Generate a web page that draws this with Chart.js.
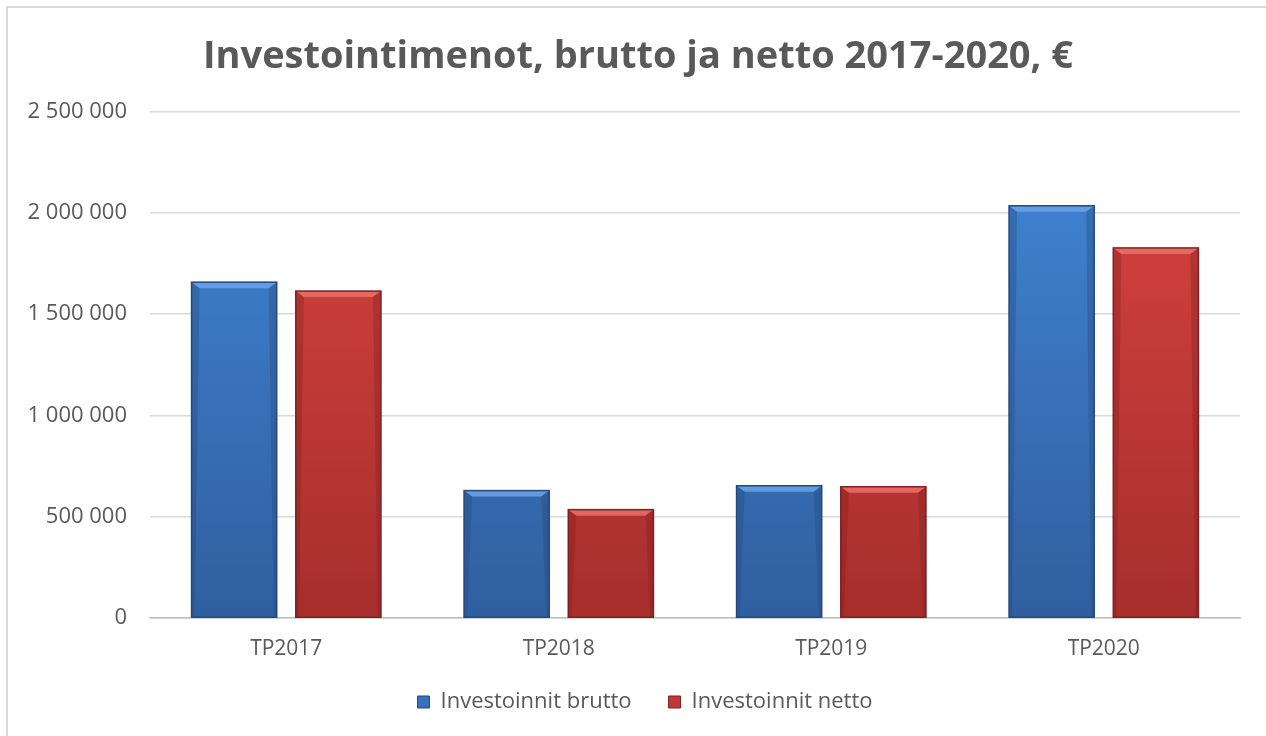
<!DOCTYPE html>
<html>
<head>
<meta charset="utf-8">
<script src="https://cdn.jsdelivr.net/npm/chart.js@4.4.1/dist/chart.umd.min.js"></script>
<style>
  html, body { margin: 0; padding: 0; background: #fff; }
  #wrap { position: relative; width: 1266px; height: 736px; overflow: hidden; }
  #frame { position: absolute; left: 6px; top: 6px; width: 1300px; height: 800px;
           border-top: 2px solid #d9d9d9; border-left: 2px solid #d9d9d9; }
  canvas { position: absolute; left: 0; top: 0; }
</style>
</head>
<body>
<div id="wrap">
  <div id="frame"></div>
  <canvas id="chart" width="1266" height="736"></canvas>
</div>
<script>
const title = 'Investointimenot, brutto ja netto 2017-2020, €';
const categories = ['TP2017', 'TP2018', 'TP2019', 'TP2020'];
const seriesNames = ['Investoinnit brutto', 'Investoinnit netto'];
const brutto = [1658000, 629000, 653000, 2035000];
const netto = [1614000, 535000, 648000, 1827000];
const yTicks = [0, 500000, 1000000, 1500000, 2000000, 2500000];

const palette = [
    { top: '#4287d8', bottom: '#305f9f', edge: '#24497c', light: '#6aa3e8', legend: '#3a6fb8' },
    { top: '#dc4542', bottom: '#a62e2d', edge: '#7e2020', light: '#ec6e6b', legend: '#c0393a' }
];

function fmt(v) {
    return v.toString().replace(/\B(?=(\d{3})+(?!\d))/g, ' ');
}

function barFill(idx) {
    return function(context) {
        const area = context.chart.chartArea;
        if (!area) return palette[idx].top;
        const g = context.chart.ctx.createLinearGradient(0, area.top, 0, area.bottom);
        g.addColorStop(0, palette[idx].top);
        g.addColorStop(1, palette[idx].bottom);
        return g;
    };
}

// bevel look of the original bars
const bevelPlugin = {
    id: 'bevel',
    afterDatasetsDraw(chart) {
        const ctx = chart.ctx;
        chart.data.datasets.forEach((ds, i) => {
            const meta = chart.getDatasetMeta(i);
            const p = palette[i];
            meta.data.forEach(bar => {
                const { x, y, base, width } = bar.getProps(['x', 'y', 'base', 'width'], true);
                const l = x - width / 2, r = x + width / 2;
                const b = 8, h = 6;
                ctx.save();
                // top bevel
                ctx.fillStyle = p.light;
                ctx.globalAlpha = 0.85;
                ctx.beginPath();
                ctx.moveTo(l, y);
                ctx.lineTo(r, y);
                ctx.lineTo(r - b, y + h);
                ctx.lineTo(l + b, y + h);
                ctx.closePath();
                ctx.fill();
                // side shading
                ctx.globalAlpha = 0.35;
                ctx.fillStyle = p.edge;
                ctx.beginPath();
                ctx.moveTo(l, y);
                ctx.lineTo(l + b, y + h);
                ctx.lineTo(l + 3, base);
                ctx.lineTo(l, base);
                ctx.closePath();
                ctx.fill();
                ctx.beginPath();
                ctx.moveTo(r, y);
                ctx.lineTo(r - b, y + h);
                ctx.lineTo(r - 3, base);
                ctx.lineTo(r, base);
                ctx.closePath();
                ctx.fill();
                // outline
                ctx.globalAlpha = 1;
                ctx.strokeStyle = p.edge;
                ctx.lineWidth = 1.5;
                ctx.strokeRect(l, y, width, base - y);
                ctx.restore();
            });
        });
    }
};

// nudge title and legend like in the original
const nudgePlugin = {
    id: 'nudge',
    afterLayout(chart) {
        const t = chart.titleBlock, lg = chart.legend;
        if (t) { t.left += 8; t.right += 8; }
        if (lg) { lg.left += 15; lg.right += 15; lg.top -= 13; lg.bottom -= 13; }
    }
};

const textColor = '#595959';

new Chart(document.getElementById('chart'), {
    type: 'bar',
    data: {
        labels: categories,
        datasets: [
            { label: seriesNames[0], data: brutto, backgroundColor: barFill(0), borderWidth: 0 },
            { label: seriesNames[1], data: netto, backgroundColor: barFill(1), borderWidth: 0 }
        ]
    },
    options: {
        responsive: false,
        animation: false,
        categoryPercentage: 0.765,
        barPercentage: 0.817,
        layout: { padding: { left: 20, right: 26, top: 0, bottom: 0 } },
        scales: {
            x: {
                afterFit(scale) { scale.height = 49; },
                grid: { display: false, drawTicks: false },
                border: { display: true, color: '#bfbfbf', width: 1.5 },
                ticks: { color: textColor, font: { family: 'Open Sans', size: 21 }, padding: 18 }
            },
            y: {
                min: 0,
                max: 2500000,
                afterBuildTicks(scale) {
                    scale.ticks = yTicks.map(v => ({ value: v }));
                },
                afterFit(scale) { scale.width = 130; },
                grid: { color: '#d9d9d9', lineWidth: 1.5, drawTicks: false },
                border: { display: false },
                ticks: {
                    color: textColor,
                    font: { family: 'Open Sans', size: 22 },
                    padding: 23,
                    callback: v => fmt(v)
                }
            }
        },
        plugins: {
            title: {
                display: true,
                text: title,
                color: textColor,
                font: { family: 'Open Sans', size: 38, weight: 'bold' },
                padding: { top: 34, bottom: 32 }
            },
            legend: {
                position: 'bottom',
                labels: {
                    color: textColor,
                    font: { family: 'Open Sans', size: 22 },
                    boxWidth: 12,
                    boxHeight: 12,
                    padding: 37,
                    generateLabels: chart => seriesNames.map((n, i) => ({
                        text: n,
                        fillStyle: palette[i].legend,
                        strokeStyle: palette[i].edge,
                        lineWidth: 1,
                        fontColor: textColor,
                        datasetIndex: i
                    }))
                }
            },
            tooltip: { enabled: false }
        }
    },
    plugins: [bevelPlugin, nudgePlugin]
});
</script>
</body>
</html>
